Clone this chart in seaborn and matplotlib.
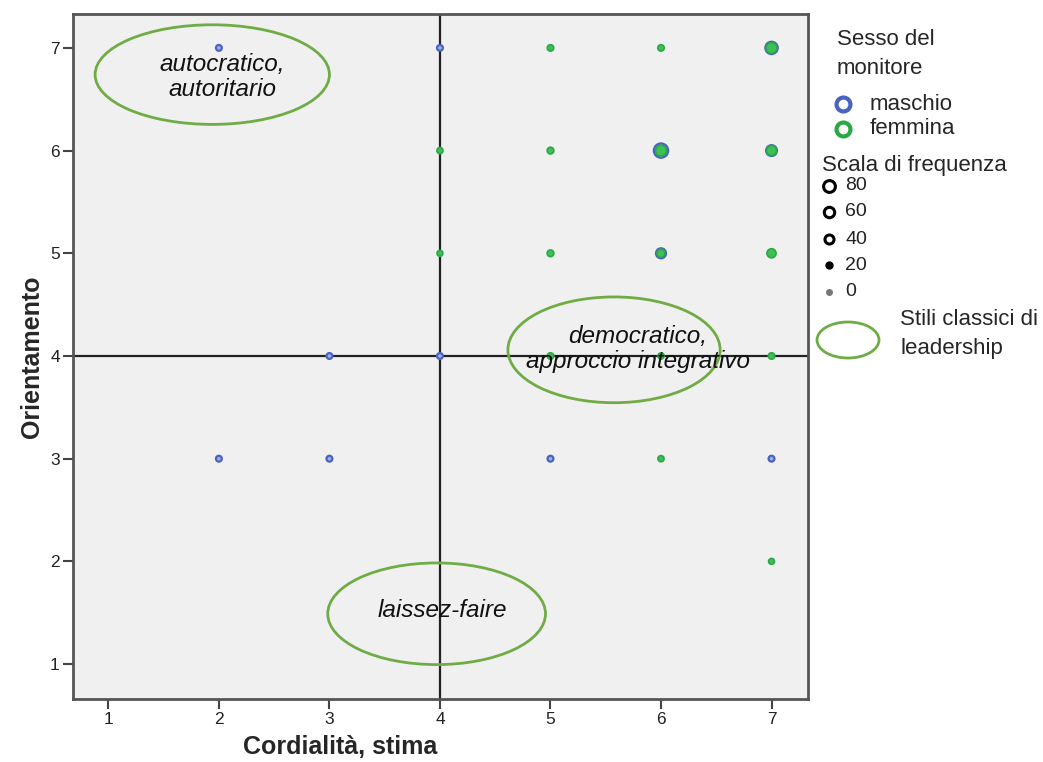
import matplotlib.pyplot as plt
import matplotlib.patches as mpatches
from matplotlib.lines import Line2D
import pandas as pd
import seaborn as sns

# dati: maschio (blu) e femmina (verde), frequenza stimata
cordialita_m = [2, 4, 7, 6, 7, 6, 3, 4, 2, 3, 5, 7]
orient_m = [7, 7, 7, 6, 6, 5, 4, 4, 3, 3, 3, 3]
freq_m = [1, 1, 35, 50, 25, 20, 1, 1, 1, 1, 1, 1]

cordialita_f = [5, 6, 7, 4, 5, 6, 7, 4, 5, 6, 7, 5, 6, 7, 6, 7]
orient_f = [7, 7, 7, 6, 6, 6, 6, 5, 5, 5, 5, 4, 4, 4, 3, 2]
freq_f = [3, 3, 25, 2, 4, 25, 20, 1, 4, 10, 15, 3, 2, 3, 2, 1]

sesso = ["maschio", "femmina"]
scala = [80, 60, 40, 20, 0]
ticks = [1, 2, 3, 4, 5, 6, 7]

# ellissi: stili classici di leadership (centro x, centro y, larghezza, altezza, testo, posizione testo)
stili = [
    (1.94, 6.74, 2.12, 0.97, "autocratico,\nautoritario", 2.03, 6.72),
    (5.575, 4.06, 1.92, 1.03, "democratico,\napproccio integrativo", 5.79, 4.07),
    (3.97, 1.49, 1.97, 0.99, "laissez-faire", 4.02, 1.52),
]

df_m = pd.DataFrame({"Cordialita": cordialita_m, "Orientamento": orient_m, "Freq": freq_m})
df_f = pd.DataFrame({"Cordialita": cordialita_f, "Orientamento": orient_f, "Freq": freq_f})

sns.set_style("white")
plt.rcParams['font.family'] = ['Liberation Sans', 'DejaVu Sans']

BLU_E, BLU_F = "#4a62c0", "#9fb0e4"
VER_E, VER_F = "#2aa845", "#3fc057"
ELL = "#6fac46"

W, H = 1043, 762
fig = plt.figure(figsize=(W / 100, H / 100), dpi=100)
ax = fig.add_axes([73 / W, 1 - 699 / H, 735 / W, 685 / H])
ax.set_facecolor("#f0f0f0")

sns.scatterplot(data=df_m, x="Cordialita", y="Orientamento", size="Freq",
                sizes=(16, 160), size_norm=(0, 80), color=BLU_F, edgecolor=BLU_E,
                linewidth=1.6, legend=False, ax=ax, zorder=3)
sns.scatterplot(data=df_f, x="Cordialita", y="Orientamento", size="Freq",
                sizes=(16, 160), size_norm=(0, 80), color=VER_F, edgecolor=VER_E,
                linewidth=1.2, legend=False, ax=ax, zorder=4)

ax.axvline(4, color="#222222", lw=1.6, zorder=2)
ax.axhline(4, color="#222222", lw=1.6, zorder=2)

for cx, cy, w, h, txt, tx, ty in stili:
    ax.add_patch(mpatches.Ellipse((cx, cy), w, h, fill=False, edgecolor=ELL, lw=2, zorder=5))
    ax.text(tx, ty, txt, ha="center", va="center", fontsize=17.5, style="italic",
            linespacing=1.12, color="#111111", zorder=6)

ax.set_xlim(0.68, 7.33)
ax.set_ylim(0.66, 7.33)
ax.set_xticks(ticks)
ax.set_yticks(ticks)
ax.tick_params(bottom=True, left=True, direction="out", length=7.5, width=1.5,
               color="#444444", labelsize=12.5, labelcolor="#222222", pad=2)
for s in ax.spines.values():
    s.set_color("#555555")
    s.set_linewidth(2)

ax.set_xlabel("Cordialità, stima", fontsize=18, fontweight="bold")
ax.set_ylabel("Orientamento", fontsize=18, fontweight="bold")
ax.xaxis.set_label_coords(0.363, -0.052)
ax.yaxis.set_label_coords(-0.04, 0.5)


def fp(x, y):
    return (x / W, 1 - y / H)


# legenda: sesso del monitore
fig.text(*fp(837, 54), "Sesso del\nmonitore", fontsize=16, va="center", linespacing=1.45)
for (nome, ec), yy in zip(zip(sesso, [BLU_E, VER_E]), [104, 129]):
    fig.add_artist(Line2D([fp(843, yy)[0]], [fp(843, yy)[1]], marker="o", markersize=10,
                          markerfacecolor="none", markeredgecolor=ec, markeredgewidth=3,
                          transform=fig.transFigure))
    fig.text(*fp(870, yy), nome, fontsize=16, va="center")

# legenda: scala di frequenza
fig.text(*fp(822, 165), "Scala di frequenza", fontsize=16, va="center",
         bbox=dict(facecolor="white", edgecolor="none", pad=2))
for val, yy, ms in zip(scala, [186, 212, 239, 265, 292], [8.5, 7.5, 6.5, 5, 4]):
    col = "#777777" if val == 0 else "black"
    fig.add_artist(Line2D([fp(829, yy)[0]], [fp(829, yy)[1]], marker="o", markersize=ms,
                          markerfacecolor="white" if val >= 40 else col, markeredgecolor=col,
                          markeredgewidth=2.2 if val >= 40 else 1,
                          transform=fig.transFigure))
    fig.text(*fp(845, yy), str(val), fontsize=14, va="center", color="#222222")

# legenda: ellisse
fig.add_artist(mpatches.Ellipse(fp(848, 340), 62 / W, 36 / H, fill=False, edgecolor=ELL,
                                lw=2, transform=fig.transFigure))
fig.text(*fp(900, 334), "Stili classici di\nleadership", fontsize=16, va="center", linespacing=1.45)

fig.savefig("out.png", dpi=100, facecolor="white")
